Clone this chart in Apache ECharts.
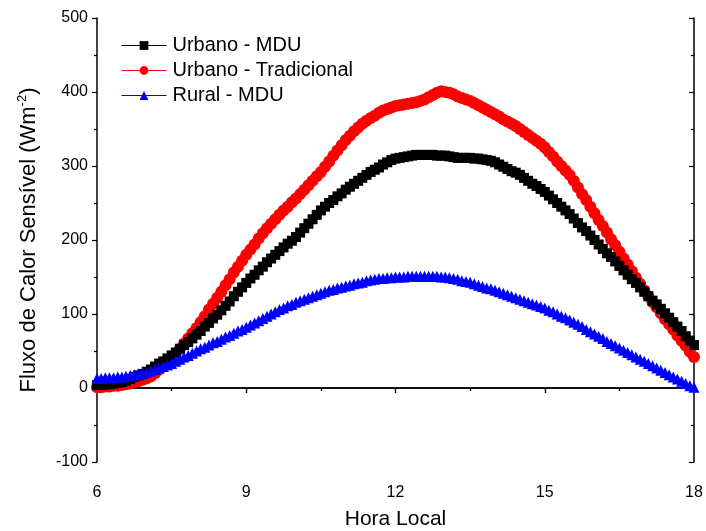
<!DOCTYPE html>
<html>
<head>
<meta charset="utf-8">
<script src="https://cdn.jsdelivr.net/npm/echarts@6/dist/echarts.min.js"></script>
<style>
  html, body { margin: 0; padding: 0; background: #fff; }
  #chart { width: 706px; height: 531px; }
</style>
</head>
<body>
<div id="chart"></div>
<script>
// Sensible heat flux, 5-minute values from 06:00 to 18:00 local time
const startHour = 6;
const stepMinutes = 5;

const urbanoMDU = [
  4, 4, 5, 5, 6, 7,
  8, 10, 12, 15, 17, 19,
  22, 25, 29, 33, 36, 40,
  44, 48, 53, 58, 62, 67,
  72, 77, 83, 88, 94, 99,
  105, 111, 117, 124, 130, 136,
  142, 148, 153, 159, 164, 170,
  175, 180, 185, 190, 195, 199,
  204, 210, 216, 222, 228, 234,
  240, 245, 250, 254, 259, 263,
  268, 272, 276, 280, 284, 288,
  292, 295, 298, 302, 305, 308,
  310, 311, 312, 313, 314, 315,
  315, 315, 315, 315, 314, 314,
  314, 313, 312, 311, 311, 311,
  311, 310, 310, 309, 308, 307,
  305, 302, 299, 296, 293, 291,
  288, 284, 280, 276, 273, 269,
  265, 260, 255, 250, 245, 240,
  235, 229, 223, 217, 212, 206,
  200, 194, 188, 182, 177, 171,
  165, 159, 153, 147, 142, 136,
  130, 124, 118, 113, 107, 101,
  95, 89, 83, 77, 70, 64,
  58
];

const urbanoTradicional = [
  1, 1, 2, 2, 3, 3,
  4, 5, 6, 8, 9, 11,
  13, 16, 20, 25, 30, 35,
  40, 46, 53, 60, 67, 74,
  81, 89, 97, 106, 114, 122,
  130, 139, 147, 156, 164, 172,
  180, 187, 194, 202, 209, 216,
  222, 228, 234, 240, 245, 251,
  256, 262, 268, 274, 280, 286,
  292, 299, 306, 314, 321, 328,
  335, 341, 347, 352, 357, 361,
  365, 368, 372, 375, 377, 379,
  381, 382, 383, 384, 385, 386,
  388, 390, 393, 396, 399, 401,
  400, 399, 397, 394, 392, 390,
  388, 385, 382, 379, 376, 373,
  370, 367, 363, 360, 357, 354,
  350, 346, 342, 338, 334, 330,
  325, 319, 313, 306, 300, 294,
  288, 280, 271, 262, 254, 245,
  236, 227, 219, 210, 201, 193,
  184, 175, 167, 158, 149, 141,
  132, 124, 116, 109, 101, 93,
  86, 79, 71, 64, 57, 49,
  42
];

const ruralMDU = [
  13, 13, 14, 14, 14, 15,
  15, 16, 17, 18, 19, 20,
  21, 23, 25, 27, 29, 31,
  33, 36, 39, 42, 44, 47,
  50, 53, 55, 58, 61, 63,
  66, 69, 71, 74, 77, 79,
  82, 85, 88, 91, 94, 97,
  100, 103, 106, 108, 111, 113,
  116, 118, 120, 122, 124, 126,
  128, 130, 132, 133, 135, 136,
  138, 139, 141, 142, 143, 145,
  146, 147, 148, 148, 149, 149,
  150, 150, 150, 151, 151, 151,
  151, 151, 151, 151, 151, 150,
  150, 149, 148, 147, 145, 144,
  143, 141, 139, 137, 135, 134,
  132, 130, 128, 126, 124, 122,
  120, 118, 116, 114, 112, 110,
  108, 105, 103, 100, 97, 95,
  92, 89, 86, 83, 79, 76,
  73, 70, 67, 63, 60, 57,
  54, 51, 48, 45, 42, 39,
  36, 33, 30, 27, 24, 21,
  18, 15, 12, 9, 6, 3,
  1
];

const seriesNames = ['Urbano - MDU', 'Urbano - Tradicional', 'Rural - MDU'];
const xTicks = [6, 9, 12, 15, 18];
const yTicks = [-100, 0, 100, 200, 300, 400, 500];

function toPairs(values) {
  return values.map((v, i) => [startHour + i * stepMinutes / 60, v]);
}

const FONT = '"Liberation Sans", Arial, sans-serif';
const AXIS_LINE = { show: true, lineStyle: { color: '#000', width: 1.5 } };

const chart = echarts.init(document.getElementById('chart'), null, { renderer: 'canvas' });

const tickOut = { show: true, inside: false, length: 5, lineStyle: { color: '#000', width: 1.2 } };
const tickIn = { show: true, inside: true, length: 5, lineStyle: { color: '#000', width: 1.2 } };
const minorTicks = { show: true, splitNumber: 2, length: 3, lineStyle: { color: '#000', width: 1.2 } };

chart.setOption({
  animation: false,
  backgroundColor: '#fff',
  grid: { left: 97, right: 12, top: 18, bottom: 69, containLabel: false, outerBoundsMode: 'none' },
  legend: {
    orient: 'vertical',
    left: 116,
    top: 30,
    itemWidth: 45,
    itemHeight: 11,
    itemGap: 4,
    data: seriesNames,
    lineStyle: { width: 1 },
    textStyle: { fontFamily: FONT, fontSize: 20, lineHeight: 21, color: '#000', padding: [0, 0, 0, 1] }
  },
  xAxis: [
    {
      type: 'value',
      min: xTicks[0],
      max: xTicks[xTicks.length - 1],
      interval: 3,
      position: 'bottom',
      name: 'Hora Local',
      nameLocation: 'middle',
      nameGap: 47,
      nameTextStyle: { fontFamily: FONT, fontSize: 21, color: '#000' },
      axisLine: AXIS_LINE,
      axisTick: tickOut,
      minorTick: minorTicks,
      axisLabel: { fontFamily: FONT, fontSize: 16, color: '#000', margin: 23 },
      splitLine: { show: false }
    },
    {
      type: 'value',
      min: xTicks[0],
      max: xTicks[xTicks.length - 1],
      interval: 3,
      position: 'top',
      axisLine: AXIS_LINE,
      axisTick: tickIn,
      minorTick: minorTicks,
      axisLabel: { show: false },
      splitLine: { show: false }
    }
  ],
  yAxis: [
    {
      type: 'value',
      min: yTicks[0],
      max: yTicks[yTicks.length - 1],
      interval: 100,
      position: 'left',
      name: '{n|Fluxo de Calor Sensível (Wm}{s|-2}{n|)}',
      nameLocation: 'middle',
      nameGap: 56,
      nameRotate: 90,
      nameTextStyle: {
        fontFamily: FONT, color: '#000',
        rich: {
          n: { fontFamily: FONT, fontSize: 22, color: '#000' },
          s: { fontFamily: FONT, fontSize: 13, color: '#000', padding: [0, 0, 12, 0] }
        }
      },
      axisLine: AXIS_LINE,
      axisTick: tickOut,
      minorTick: minorTicks,
      axisLabel: { fontFamily: FONT, fontSize: 16, color: '#000', margin: 9 },
      splitLine: { show: false }
    },
    {
      type: 'value',
      min: yTicks[0],
      max: yTicks[yTicks.length - 1],
      interval: 100,
      position: 'right',
      axisLine: AXIS_LINE,
      axisTick: tickIn,
      minorTick: minorTicks,
      axisLabel: { show: false },
      splitLine: { show: false }
    }
  ],
  series: [
    {
      name: seriesNames[0],
      type: 'line',
      z: 3,
      data: toPairs(urbanoMDU),
      symbol: 'rect',
      symbolSize: 10,
      showAllSymbol: true,
      itemStyle: { color: '#000' },
      lineStyle: { color: '#000', width: 1 }
    },
    {
      name: seriesNames[1],
      type: 'line',
      z: 2,
      data: toPairs(urbanoTradicional),
      symbol: 'circle',
      symbolSize: 12,
      showAllSymbol: true,
      itemStyle: { color: '#ff0000' },
      lineStyle: { color: '#ff0000', width: 1 }
    },
    {
      name: seriesNames[2],
      type: 'line',
      z: 4,
      data: toPairs(ruralMDU),
      symbol: 'triangle',
      symbolSize: 11,
      showAllSymbol: true,
      itemStyle: { color: '#0000ff' },
      lineStyle: { color: '#0000ff', width: 1 }
    }
  ]
});
</script>
</body>
</html>
